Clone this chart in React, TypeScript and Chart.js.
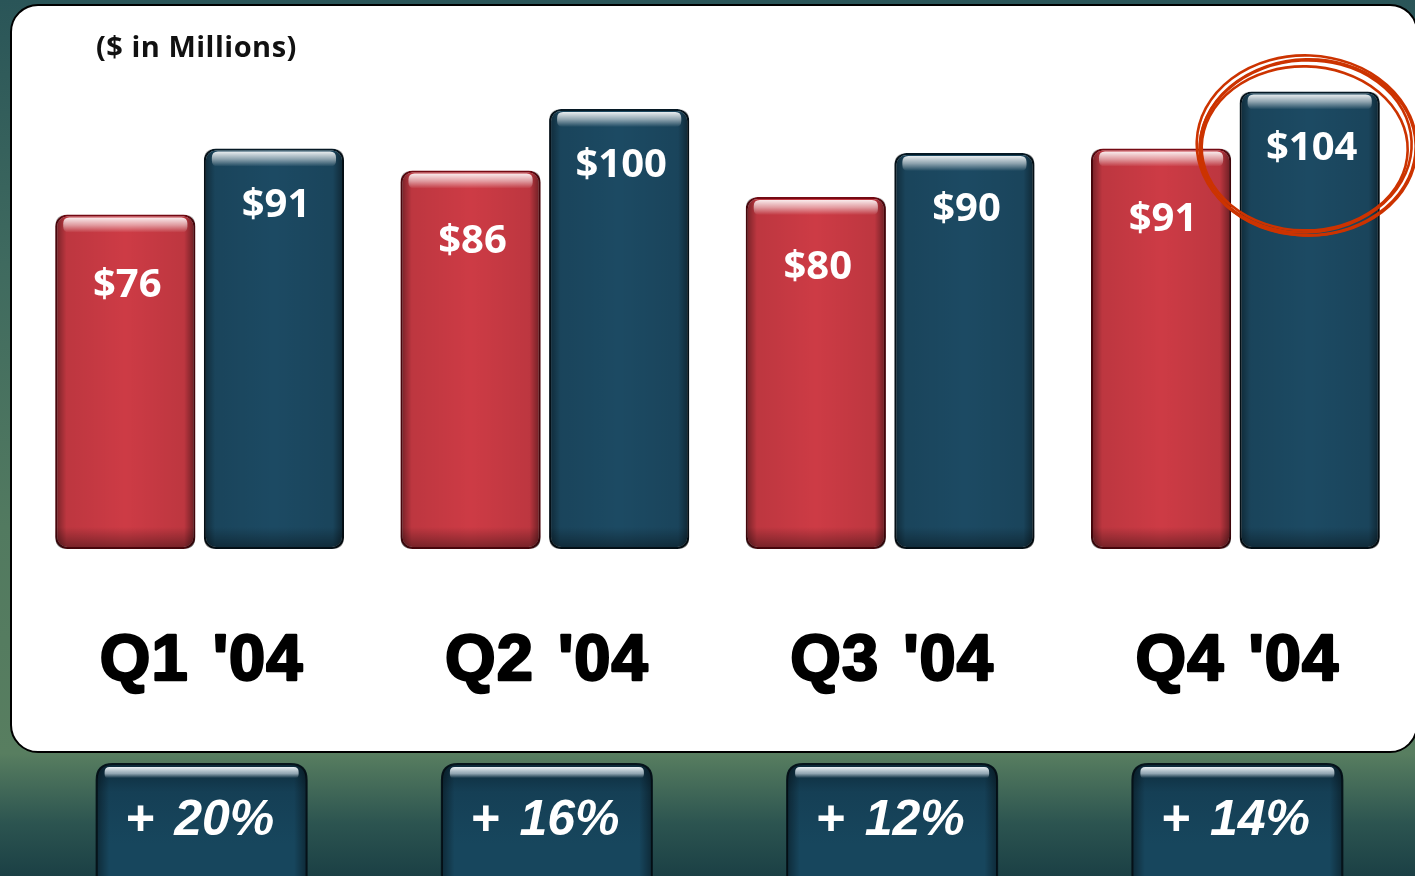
import React, { useEffect, useRef } from "react";
import { Chart, registerables } from "chart.js";

Chart.register(...registerables);

const categories = ["Q1 '04", "Q2 '04", "Q3 '04", "Q4 '04"];
const prevYear = [76, 86, 80, 91];
const currYear = [91, 100, 90, 104];
const growth = ["+ 20%", "+ 16%", "+ 12%", "+ 14%"];
const unitNote = "($ in Millions)";

const RED = "#cd3b45";
const BLUE = "#1c4a63";

function roundRectPath(ctx: CanvasRenderingContext2D, x: number, y: number, w: number, h: number, r: number) {
  ctx.beginPath();
  ctx.moveTo(x + r, y);
  ctx.lineTo(x + w - r, y);
  ctx.quadraticCurveTo(x + w, y, x + w, y + r);
  ctx.lineTo(x + w, y + h - r);
  ctx.quadraticCurveTo(x + w, y + h, x + w - r, y + h);
  ctx.lineTo(x + r, y + h);
  ctx.quadraticCurveTo(x, y + h, x, y + h - r);
  ctx.lineTo(x, y + r);
  ctx.quadraticCurveTo(x, y, x + r, y);
  ctx.closePath();
}

const decorPlugin = {
  id: "decor",
  afterDatasetsDraw(chart: any) {
    const ctx: any = chart.ctx;
    const xs = chart.scales.x;
    chart.data.datasets.forEach((ds: any, di: number) => {
      const meta = chart.getDatasetMeta(di);
      meta.data.forEach((bar: any, i: number) => {
        const w = bar.width;
        const left = bar.x - w / 2;
        const top = bar.y;
        const h = bar.base - bar.y;
        ctx.save();
        roundRectPath(ctx, left, top, w, h, 12);
        ctx.clip();
        const hg = ctx.createLinearGradient(left, 0, left + w, 0);
        hg.addColorStop(0, "rgba(0,0,0,0.45)");
        hg.addColorStop(0.08, "rgba(0,0,0,0.08)");
        hg.addColorStop(0.5, "rgba(0,0,0,0)");
        hg.addColorStop(0.92, "rgba(0,0,0,0.08)");
        hg.addColorStop(1, "rgba(0,0,0,0.5)");
        ctx.fillStyle = hg;
        ctx.fillRect(left, top, w, h);
        const vg = ctx.createLinearGradient(0, bar.base - 22, 0, bar.base);
        vg.addColorStop(0, "rgba(0,0,0,0)");
        vg.addColorStop(1, "rgba(0,0,0,0.4)");
        ctx.fillStyle = vg;
        ctx.fillRect(left, bar.base - 22, w, 22);
        const tg = ctx.createLinearGradient(0, top + 3, 0, top + 18);
        tg.addColorStop(0, "rgba(255,255,255,0.9)");
        tg.addColorStop(0.5, "rgba(255,255,255,0.5)");
        tg.addColorStop(1, "rgba(255,255,255,0)");
        ctx.fillStyle = tg;
        roundRectPath(ctx, left + 8, top + 3, w - 16, 15, 6);
        ctx.fill();
        ctx.restore();
        ctx.save();
        ctx.fillStyle = "#ffffff";
        ctx.font = "bold 40px 'Open Sans', 'DejaVu Sans', sans-serif";
        ctx.textAlign = "center";
        ctx.textBaseline = "middle";
        const off = di === 0 ? 71 : 57;
        ctx.fillText("$" + ds.data[i], bar.x + 2, top + off);
        ctx.restore();
      });
    });

    categories.forEach((c, i) => {
      const cx = xs.getPixelForValue(i);
      ctx.save();
      ctx.fillStyle = "#000";
      ctx.strokeStyle = "#000";
      ctx.lineWidth = 2.5;
      ctx.lineJoin = "round";
      ctx.font = "bold 65px 'Liberation Sans', Arial, sans-serif";
      ctx.letterSpacing = "1px";
      ctx.wordSpacing = "5px";
      ctx.textAlign = "center";
      ctx.textBaseline = "middle";
      ctx.strokeText(c, cx + 2, 662);
      ctx.fillText(c, cx + 2, 662);
      ctx.restore();

      const bw = 210;
      const bx = cx - bw / 2 + 2;
      const by = 764;
      const bh = 130;
      ctx.save();
      roundRectPath(ctx, bx, by, bw, bh, 16);
      const bg = ctx.createLinearGradient(0, by, 0, by + 80);
      bg.addColorStop(0, "#0c2a3a");
      bg.addColorStop(0.35, "#153f55");
      bg.addColorStop(1, "#17465d");
      ctx.fillStyle = bg;
      ctx.fill();
      ctx.lineWidth = 2;
      ctx.strokeStyle = "#06141c";
      ctx.stroke();
      ctx.clip();
      const hg = ctx.createLinearGradient(bx, 0, bx + bw, 0);
      hg.addColorStop(0, "rgba(0,0,0,0.4)");
      hg.addColorStop(0.06, "rgba(0,0,0,0)");
      hg.addColorStop(0.94, "rgba(0,0,0,0)");
      hg.addColorStop(1, "rgba(0,0,0,0.4)");
      ctx.fillStyle = hg;
      ctx.fillRect(bx, by, bw, bh);
      const tg = ctx.createLinearGradient(0, by + 3, 0, by + 14);
      tg.addColorStop(0, "rgba(235,242,246,1)");
      tg.addColorStop(0.6, "rgba(200,215,225,0.7)");
      tg.addColorStop(1, "rgba(200,215,225,0)");
      ctx.fillStyle = tg;
      roundRectPath(ctx, bx + 8, by + 3, bw - 16, 12, 5);
      ctx.fill();
      ctx.restore();

      ctx.save();
      ctx.fillStyle = "#ffffff";
      ctx.font = "italic bold 50px 'Liberation Sans', Arial, sans-serif";
      ctx.wordSpacing = "6px";
      ctx.textAlign = "center";
      ctx.textBaseline = "middle";
      ctx.fillText(growth[i], bx + bw / 2 - 2, 821);
      ctx.restore();
    });

    ctx.save();
    ctx.fillStyle = "#111";
    ctx.font = "bold 29px 'Open Sans', 'DejaVu Sans', sans-serif";
    ctx.letterSpacing = "0.5px";
    ctx.textAlign = "left";
    ctx.textBaseline = "middle";
    ctx.fillText(unitNote, 96, 49);
    ctx.restore();

    const lastMeta = chart.getDatasetMeta(1);
    const lb = lastMeta.data[lastMeta.data.length - 1];
    const ccx = lb.x - 4;
    const ccy = lb.y + 55;
    ctx.save();
    ctx.strokeStyle = "#cc3300";
    ctx.lineWidth = 2.6;
    const rings = [
      [106, 86, -0.05, 0, 0],
      [110, 90, 0.04, 1, -1],
      [103, 82, 0.02, -1, 2],
      [108, 88, -0.02, 2, 1],
    ];
    rings.forEach(([rx, ry, rot, dx, dy]) => {
      ctx.beginPath();
      ctx.ellipse(ccx + dx, ccy + dy, rx, ry, rot, 0, Math.PI * 2);
      ctx.stroke();
    });
    ctx.restore();
  },
};

export default function App() {
  const ref = useRef<HTMLCanvasElement>(null);
  useEffect(() => {
    document.body.style.margin = "0";
    const chart = new Chart(ref.current!, {
      type: "bar",
      data: {
        labels: categories,
        datasets: [
          {
            label: "2003",
            data: prevYear,
            backgroundColor: RED,
            borderColor: "#7a0a14",
            borderWidth: 2,
            borderRadius: 12,
            borderSkipped: false,
            categoryPercentage: 0.861,
            barPercentage: 0.943,
          },
          {
            label: "2004",
            data: currYear,
            backgroundColor: BLUE,
            borderColor: "#061a26",
            borderWidth: 2,
            borderRadius: 12,
            borderSkipped: false,
            categoryPercentage: 0.861,
            barPercentage: 0.943,
          },
        ],
      },
      options: {
        animation: false,
        responsive: false,
        events: [],
        layout: { padding: { left: 27, right: 7, top: 21, bottom: 327 } },
        plugins: { legend: { display: false }, tooltip: { enabled: false }, title: { display: false } },
        scales: {
          x: { display: false, grid: { display: false } },
          y: { display: false, min: 0, max: 120 },
        },
      },
      plugins: [decorPlugin],
    });
    return () => chart.destroy();
  }, []);

  return (
    <div
      style={{
        position: "fixed",
        left: 0,
        top: 0,
        width: 1415,
        height: 876,
        overflow: "hidden",
        background:
          "linear-gradient(to bottom, #2a5558 0%, #3f6a5f 30%, #527a60 60%, #587e60 86%, #2c5450 94%, #1b4045 100%)",
      }}
    >
      <div
        style={{
          position: "absolute",
          left: 10,
          top: 4,
          width: 1404,
          height: 745,
          background: "#ffffff",
          border: "2px solid #000",
          borderRadius: 28,
        }}
      />
      <canvas ref={ref} width={1415} height={876} style={{ position: "absolute", left: 0, top: 0 }} />
    </div>
  );
}
